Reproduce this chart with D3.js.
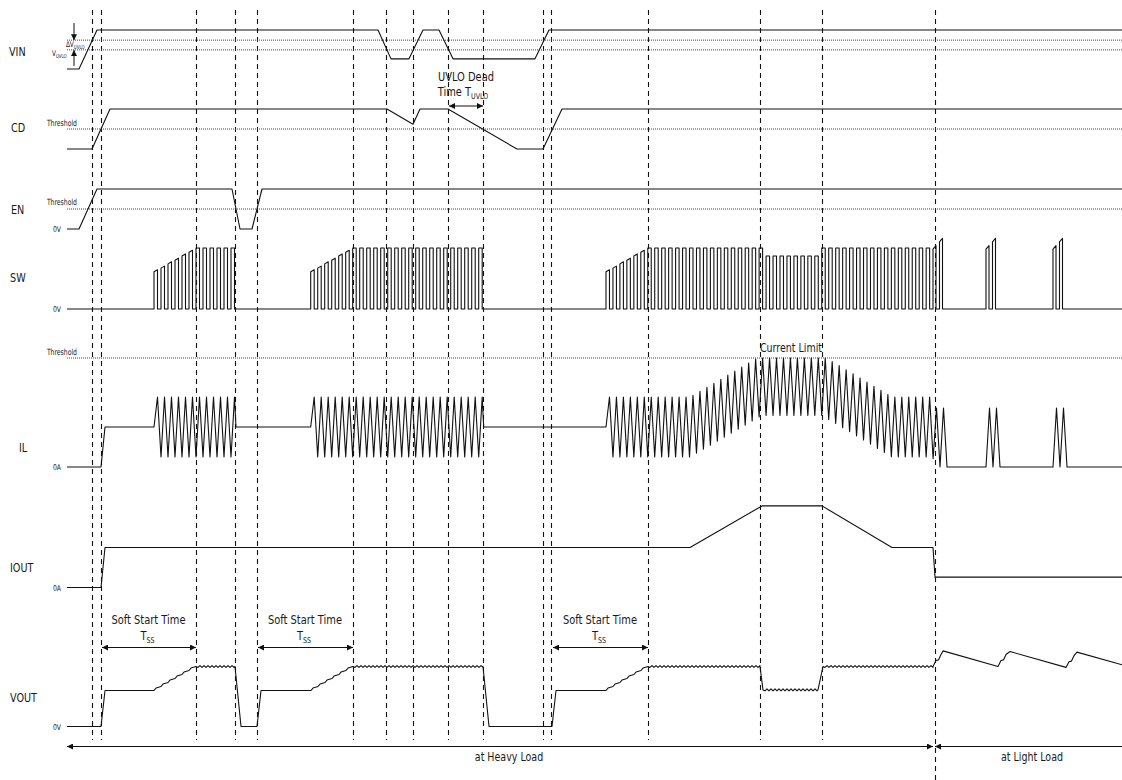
<!DOCTYPE html>
<html><head><meta charset="utf-8">
<script src="https://cdn.jsdelivr.net/npm/d3@7"></script>
<style>
body{margin:0;background:#fff}
svg{display:block}
text{font-family:"Liberation Sans Narrow","Arial Narrow","DejaVu Sans Condensed","Liberation Sans",sans-serif;fill:#1a1a1a}
</style>
</head><body>
<svg id="c" width="1122" height="780"></svg>
<script>
// ===================== DATA (time units, signal levels) =====================
const signals = ["VIN", "CD", "EN", "SW", "IL", "IOUT", "VOUT"];
const eventTimes = [92, 101, 196, 235, 257, 353, 386, 413, 448, 483, 543, 551, 648, 760, 822, 935];
const loadBoundary = 935;

// VIN (normalised), thresholds UVLO / UVLO + hysteresis
const vinWave = [[67,0],[79,0],[97,1],[378,1],[391,0.26],[409,0.26],[423,1],[439,1],[453,0.26],[535,0.26],[549,1],[1122,1]];
const vinThresholds = [0.49, 0.74];
// CD (normalised)
const cdWave = [[67,0],[92,0],[110,1],[387,1],[413,0.62],[420,1],[448,1],[517,0],[543,0],[562,1],[1122,1]];
const cdThreshold = 0.5;
// EN (normalised)
const enWave = [[67,0],[79,0],[97,1],[232,1],[240,0],[252,0],[262,1],[1122,1]];
const enThreshold = 0.5;
// SW switching bursts: start time, number of pulses, period
const swStarts = [154, 310.7, 606];
const swCounts = [12, 25, 47];
const swPeriods = [7, 7, 6.96];
const softStartTops = [0.61, 0.67, 0.74, 0.80, 0.87, 0.93];   // pulse heights during soft start
const currentLimitWindow = [760, 820];
const currentLimitSwLevel = 0.87;
const lightBursts = [933, 986, 1053];
const lightPulseTops = [[0.98, 1.04], [1.10, 1.16]];
// IOUT (A, normalised to nominal load)
const ioutWave = [[67,0],[101,0],[105,1],[690,1],[762,2.04],[822,2.04],[892,1],[933,1],[935,0.26],[1122,0.26]];
// IL
const ilRippleHalf = 0.75;
const ilLimit = 2.725;
const ilLightPeak = 1.475;
// VOUT (normalised)
const voutLines = [
  [[67,0],[101,0],[105,0.6],[154,0.6]],
  [[235,1],[241,0],[257,0],[261,0.6],[311,0.6]],
  [[483,1],[489,0],[552,0],[556,0.6],[606,0.6]],
  [[760,1],[763,0.61]],
  [[818,0.61],[823,1]],
  [[933,1],[936,1.1],[938.5,1.11],[941,1.2],[943,1.26],[998,1.0],[1001,1.1],[1003.5,1.11],[1006,1.2],[1010,1.25],
   [1066,0.985],[1069,1.08],[1071.5,1.09],[1074,1.18],[1077,1.24],[1122,1.03]]
];
const voutSoftStart = [[154,196,0.6,1],[311,353,0.6,1],[606,648,0.6,1]];
const voutRipple = [[196,235,1],[353,483,1],[648,760,1],[763,818,0.61],[823,933,1]];
// annotations
const softStartSpans = [[101,196],[257,353],[552,648]];
const uvloDeadSpan = [448, 483];
const heavyLoadSpan = [67, 933];
const lightLoadSpan = [935, 1122];

// ===================== SCALES / LAYOUT =====================
const W = 1122, H = 780;
const svg = d3.select("#c");
const x = d3.scaleLinear().domain([0, W]).range([0, W]);
const y = {
  VIN:  d3.scaleLinear().domain([0,1]).range([69,30]),
  CD:   d3.scaleLinear().domain([0,1]).range([149,109]),
  EN:   d3.scaleLinear().domain([0,1]).range([229,189]),
  SW:   d3.scaleLinear().domain([0,1]).range([309,248]),
  IL:   d3.scaleLinear().domain([0,1]).range([467,427]),
  IOUT: d3.scaleLinear().domain([0,1]).range([587.5,547.5]),
  VOUT: d3.scaleLinear().domain([0,1]).range([726.5,666.5])
};
const labelPos = {VIN:[9,56], CD:[11,132], EN:[11,214], SW:[10,282], IL:[19,452], IOUT:[10,572], VOUT:[10,702]};
const INK = "#111";

const defs = svg.append("defs");
defs.append("marker").attr("id","ah").attr("viewBox","0 0 10 10").attr("refX",10).attr("refY",5)
  .attr("markerWidth",7).attr("markerHeight",6).attr("markerUnits","userSpaceOnUse")
  .attr("orient","auto-start-reverse")
  .append("path").attr("d","M0,0 L10,5 L0,10 Z").attr("fill",INK);

const lineGen = sc => d3.line().x(d => x(d[0])).y(d => sc(d[1]));
function drawWave(sc, pts){
  svg.append("path").attr("d", lineGen(sc)(pts)).attr("fill","none")
    .attr("stroke",INK).attr("stroke-width",1.1).attr("stroke-linejoin","round");
}
function hDotted(sc, v){
  svg.append("line").attr("x1",x(67)).attr("x2",x(W)).attr("y1",sc(v)).attr("y2",sc(v))
    .attr("stroke","#444").attr("stroke-width",1).attr("stroke-dasharray","1,1");
}

// ---- dashed event markers ----
svg.append("g").selectAll("line").data(eventTimes).join("line")
  .attr("x1",d=>x(d)+0.5).attr("x2",d=>x(d)+0.5)
  .attr("y1",10).attr("y2",d=> d===loadBoundary ? 780 : 740)
  .attr("stroke",INK).attr("stroke-width",1.1).attr("stroke-dasharray","5,4");

// ---- thresholds ----
vinThresholds.forEach(v => hDotted(y.VIN, v));
hDotted(y.CD, cdThreshold);
hDotted(y.EN, enThreshold);
hDotted(y.IL, ilLimit);

// ---- simple waveforms ----
drawWave(y.VIN, vinWave);
drawWave(y.CD, cdWave);
drawWave(y.EN, enWave);
drawWave(y.IOUT, ioutWave);

// ---- SW ----
const ioutAt = d3.scaleLinear().domain(ioutWave.map(d=>d[0])).range(ioutWave.map(d=>d[1])).clamp(true);
const swPts = [[67,0]];
swStarts.forEach((s,i) => {
  const p = swPeriods[i], w = p/2;
  for(let k=0;k<swCounts[i];k++){
    const t0 = s + k*p, t1 = t0 + w;
    let h0, h1;
    if(k < softStartTops.length){ h0 = softStartTops[k]; h1 = softStartTops[k] + 0.033; }
    else if(t0 >= currentLimitWindow[0] && t0 < currentLimitWindow[1]){ h0 = h1 = currentLimitSwLevel; }
    else { h0 = h1 = 1; }
    swPts.push([t0,0],[t0,h0],[t1,h1],[t1,0]);
  }
});
lightBursts.forEach(b => {
  lightPulseTops.forEach((tp, j) => {
    const t0 = b + j*6.5, t1 = t0 + 3;
    swPts.push([t0,0],[t0,tp[0]],[t1,tp[1]],[t1,0]);
  });
});
swPts.push([W,0]);
drawWave(y.SW, swPts);

// ---- IL ----
const ilPts = [[67,0],[101,0],[105,1]];
swStarts.forEach((s,i) => {
  const p = swPeriods[i], w = p/2, n = swCounts[i];
  ilPts.push([s, ioutAt(s)]);
  for(let k=0;k<n;k++){
    const tTop = s + k*p + w;
    ilPts.push([tTop, Math.min(ioutAt(tTop) + ilRippleHalf, ilLimit)]);
    const tBot = s + (k+1)*p;
    if(k < n-1 || i === swStarts.length-1) ilPts.push([tBot, ioutAt(tBot) - ilRippleHalf]);
  }
  if(i < swStarts.length-1){ const te = s + (n-1)*p + w + 1.5; ilPts.push([te, ioutAt(te)]); }
});
lightBursts.forEach((b,i) => {
  if(i>0) ilPts.push([b,0]);
  ilPts.push([b+3.5,ilLightPeak],[b+7,0],[b+10.5,ilLightPeak],[b+14,0]);
});
ilPts.push([W,0]);
drawWave(y.IL, ilPts);

// ---- VOUT ----
const voutPts = [];
const pieces = [];
voutLines.forEach(l => pieces.push({t:l[0][0], pts:l}));
voutSoftStart.forEach(([a,b,v0,v1]) => {
  const n = 6, dt = (b-a)/n, dv = (v1-v0)/n, pts = [];
  for(let k=0;k<n;k++){
    const t = a + k*dt, v = v0 + k*dv;
    pts.push([t, v],[t+2, v+dv*0.6]);
  }
  pts.push([b, v1]);
  pieces.push({t:a+0.01, pts});
});
voutRipple.forEach(([a,b,v]) => {
  const pts = [];
  let s = 1;
  for(let t=a; t<=b; t+=2){ pts.push([t, v + (t===a ? 0 : s*0.016)]); s = -s; }
  pieces.push({t:a+0.02, pts});
});
pieces.sort((p,q)=>p.t-q.t).forEach(p => voutPts.push(...p.pts));
drawWave(y.VOUT, voutPts);

// ---- text helpers (condensed via horizontal scale) ----
function txt(xp, yp, s, size, anchor, f){
  const g = svg.append("g").attr("transform", `translate(${xp},${yp}) scale(${f||0.88},1)`);
  return g.append("text").attr("x",0).attr("y",0).attr("font-size",size)
    .attr("text-anchor",anchor||"start").text(s);
}
function subTxt(xp, yp, main, sub, size, subSize, anchor, f){
  const g = svg.append("g").attr("transform", `translate(${xp},${yp}) scale(${f||0.88},1)`);
  const t = g.append("text").attr("x",0).attr("y",0).attr("font-size",size).attr("text-anchor",anchor||"start");
  t.append("tspan").text(main);
  t.append("tspan").attr("font-size",subSize).attr("dy",size*0.25).text(sub);
  return t;
}

// row labels
signals.forEach(s => txt(labelPos[s][0], labelPos[s][1], s, 12.5, "start", 0.86));
// level labels
txt(77, y.CD(cdThreshold)-3, "Threshold", 8.5, "end", 0.8);
txt(77, y.EN(enThreshold)-4, "Threshold", 8.5, "end", 0.8);
txt(77, y.IL(ilLimit)-3, "Threshold", 8.5, "end", 0.8);
txt(61, y.EN(0)+3, "0V", 8, "end", 0.85);
txt(61, y.SW(0)+3, "0V", 8, "end", 0.85);
txt(61, y.IL(0)+3, "0A", 8, "end", 0.85);
txt(61, y.IOUT(0)+3, "0A", 8, "end", 0.85);
txt(61, y.VOUT(0)+3, "0V", 8, "end", 0.85);

// VIN UVLO annotation
svg.append("line").attr("x1",x(74)).attr("x2",x(74)).attr("y1",23).attr("y2",y.VIN(vinThresholds[1]))
  .attr("stroke",INK).attr("stroke-width",1).attr("marker-end","url(#ah)");
svg.append("line").attr("x1",x(74)).attr("x2",x(74)).attr("y1",66).attr("y2",y.VIN(vinThresholds[0]))
  .attr("stroke",INK).attr("stroke-width",1).attr("marker-end","url(#ah)");
subTxt(52, 56, "V", "UVLO", 8, 5.5, "start", 0.8);
subTxt(66, 47, "∆V", "UVLO", 8, 5.5, "start", 0.8);

// UVLO dead time
txt(466, 81, "UVLO Dead", 12.5, "middle");
subTxt(463, 96, "Time T", "UVLO", 12.5, 8, "middle");
svg.append("line").attr("x1",x(uvloDeadSpan[0])+1).attr("x2",x(uvloDeadSpan[1])).attr("y1",106).attr("y2",106)
  .attr("stroke",INK).attr("stroke-width",1.1).attr("marker-start","url(#ah)").attr("marker-end","url(#ah)");

// Current limit
txt(791, 352, "Current Limit", 12, "middle");

// Soft start annotations
softStartSpans.forEach(([a,b]) => {
  const c = (x(a)+x(b))/2;
  txt(c, 624, "Soft Start Time", 12.5, "middle");
  subTxt(c-1, 640, "T", "SS", 12.5, 8, "middle");
  svg.append("line").attr("x1",x(a)+1).attr("x2",x(b)).attr("y1",647.5).attr("y2",647.5)
    .attr("stroke",INK).attr("stroke-width",1.1).attr("marker-start","url(#ah)").attr("marker-end","url(#ah)");
});

// Load arrows
svg.append("line").attr("x1",x(heavyLoadSpan[0])).attr("x2",x(heavyLoadSpan[1])).attr("y1",746.5).attr("y2",746.5)
  .attr("stroke",INK).attr("stroke-width",1.1).attr("marker-start","url(#ah)").attr("marker-end","url(#ah)");
svg.append("line").attr("x1",x(lightLoadSpan[0])).attr("x2",x(lightLoadSpan[1])).attr("y1",746.5).attr("y2",746.5)
  .attr("stroke",INK).attr("stroke-width",1.1).attr("marker-start","url(#ah)");
txt(509, 761, "at Heavy Load", 12, "middle");
txt(1032, 761, "at Light Load", 12, "middle");
</script>
</body></html>
